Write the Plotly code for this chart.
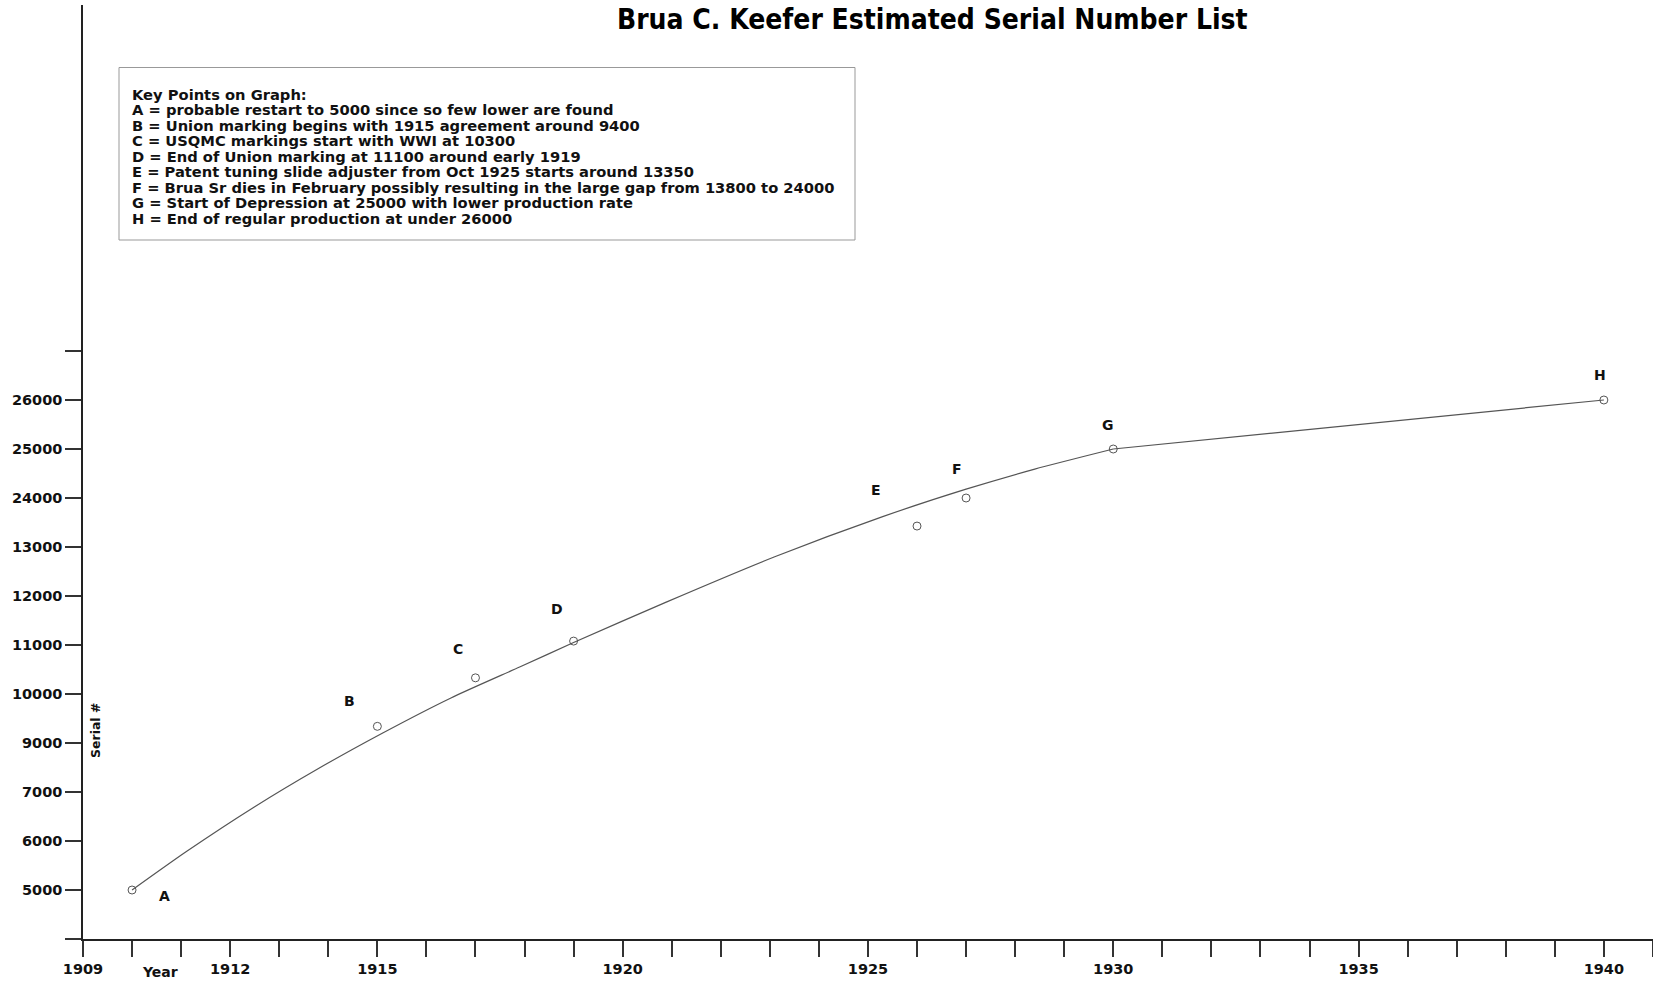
import numpy as np
import plotly.graph_objects as go

# ---------------- data ----------------
y_tick_values = [5000, 6000, 7000, 9000, 10000, 11000, 12000, 13000, 24000, 25000, 26000]
x_tick_years = list(range(1909, 1942))
x_labelled_years = [1909, 1912, 1915, 1920, 1925, 1930, 1935, 1940]

point_years = [1910, 1915, 1917, 1919, 1926, 1927, 1930, 1940]
point_serials = [5000, 9340, 10330, 11080, 17700, 24000, 25000, 26000]
point_labels = ["A", "B", "C", "D", "E", "F", "G", "H"]

curve_years = [1910, 1911.1, 1912.5, 1913.8, 1915.1, 1916.5, 1917.9, 1919, 1920.9,
               1923.1, 1925.3, 1927, 1928.4, 1930]
curve_serials = [5000, 5780, 6700, 7960, 9200, 9920, 10550, 11050, 11880,
                 12800, 19820, 24180, 24590, 25000]
tail_years = [1930, 1940]
tail_serials = [25000, 26000]

title_text = "Brua C. Keefer Estimated Serial Number List"
key_lines = [
    "Key Points on Graph:",
    "A = probable restart to 5000 since so few lower are found",
    "B = Union marking begins with 1915 agreement around 9400",
    "C = USQMC markings start with WWI at 10300",
    "D = End of Union marking at 11100 around early 1919",
    "E = Patent tuning slide adjuster from Oct 1925 starts around 13350",
    "F = Brua Sr dies in February possibly resulting in the large gap from 13800 to 24000",
    "G = Start of Depression at 25000 with lower production rate",
    "H = End of regular production at under 26000",
]

# The serial axis is an evenly spaced ordinal scale of the tick values
tick_pos = np.arange(len(y_tick_values))
def to_axis(s):
    return np.interp(s, y_tick_values, tick_pos)

# ---------------- layout geometry (pixels) ----------------
W, H = 1653, 982
L, R, T, B = 83, 0, 5, 43
PW, PH = W - L - R, H - T - B
PX_PER_YEAR = 49.06
PX_PER_STEP = 49.0
x_range = [1909, 1909 + PW / PX_PER_YEAR]
y_range = [-1, -1 + PH / PX_PER_STEP]

def px_x(p):
    return (p - L) / PW
def px_y(p):
    return 1 - (p - T) / PH

BOLD = "DejaVu Sans"
line_col = "#555555"

fig = go.Figure()

fig.add_trace(go.Scatter(
    x=curve_years, y=to_axis(curve_serials), mode="lines",
    line=dict(color=line_col, width=1.2, shape="spline", smoothing=0.6),
    hoverinfo="skip", showlegend=False))
fig.add_trace(go.Scatter(
    x=tail_years, y=to_axis(tail_serials), mode="lines",
    line=dict(color=line_col, width=1.2),
    hoverinfo="skip", showlegend=False))
fig.add_trace(go.Scatter(
    x=point_years, y=to_axis(point_serials), mode="markers",
    marker=dict(symbol="circle-open", size=8, color="#555555", line=dict(width=1)),
    showlegend=False))

# point labels (pixel offsets from their points)
label_shifts = [(32, -6), (-28, 25), (-17, 29), (-17, 32), (-41, 36), (-9, 29), (-5, 24), (-4, 25)]
for yr, s, lab, (dx, dy) in zip(point_years, point_serials, point_labels, label_shifts):
    fig.add_annotation(x=yr, y=float(to_axis(s)), text=lab, showarrow=False,
                       xshift=dx, yshift=dy,
                       font=dict(family=BOLD, size=14, color="#111111", weight="bold"))

# title
fig.add_annotation(xref="paper", yref="paper", x=px_x(932), y=px_y(19),
                   xanchor="center", yanchor="middle", text=title_text, showarrow=False,
                   font=dict(family="Liberation Sans Narrow, DejaVu Sans Condensed, Arial Narrow, sans-serif",
                             size=28, color="#000000", weight="bold"))

# key box
fig.add_shape(type="rect", xref="paper", yref="paper",
              x0=px_x(119), x1=px_x(855), y0=px_y(67.5), y1=px_y(240),
              line=dict(color="#999999", width=1), fillcolor="rgba(0,0,0,0)")
for i, t in enumerate(key_lines):
    fig.add_annotation(xref="paper", yref="paper", x=px_x(130), y=px_y(94.3 + i * 15.5),
                       xanchor="left", yanchor="middle", text=t, showarrow=False,
                       font=dict(family=BOLD, size=14.7, color="#111111", weight="bold"))

# axis titles
fig.add_annotation(xref="paper", yref="paper", x=px_x(160), y=px_y(972),
                   xanchor="center", yanchor="middle", text="Year", showarrow=False,
                   font=dict(family=BOLD, size=14, color="#111111", weight="bold"))
fig.add_annotation(xref="paper", yref="paper", x=px_x(95), y=px_y(731),
                   xanchor="center", yanchor="middle", text="Serial #", showarrow=False,
                   textangle=-90,
                   font=dict(family=BOLD, size=12.5, color="#111111", weight="bold"))

x_ticktext = [str(y) if y in x_labelled_years else "" for y in x_tick_years]
y_tickvals = [-1] + list(tick_pos) + [len(y_tick_values)]
y_ticktext = [""] + [str(v) for v in y_tick_values] + [""]

axis_font = dict(family=BOLD, size=14.5, color="#111111", weight="bold")
fig.update_xaxes(range=x_range, tickmode="array", tickvals=x_tick_years, ticktext=x_ticktext,
                 ticks="outside", ticklen=16, tickwidth=1.5, tickcolor="#333333",
                 showline=True, linecolor="#222222", linewidth=1.5,
                 showgrid=False, zeroline=False, tickfont=axis_font)
fig.update_yaxes(range=y_range, tickmode="array", tickvals=y_tickvals, ticktext=y_ticktext,
                 ticks="outside", ticklen=16, tickwidth=1.5, tickcolor="#333333",
                 showline=True, linecolor="#222222", linewidth=1.5,
                 showgrid=False, zeroline=False, tickfont=axis_font)

fig.update_layout(width=W, height=H, margin=dict(l=L, r=R, t=T, b=B),
                  plot_bgcolor="white", paper_bgcolor="white", showlegend=False)

fig.write_html("out.html", config={"displayModeBar": False},
               post_script="document.body.style.margin='0';document.body.style.overflow='hidden';")
